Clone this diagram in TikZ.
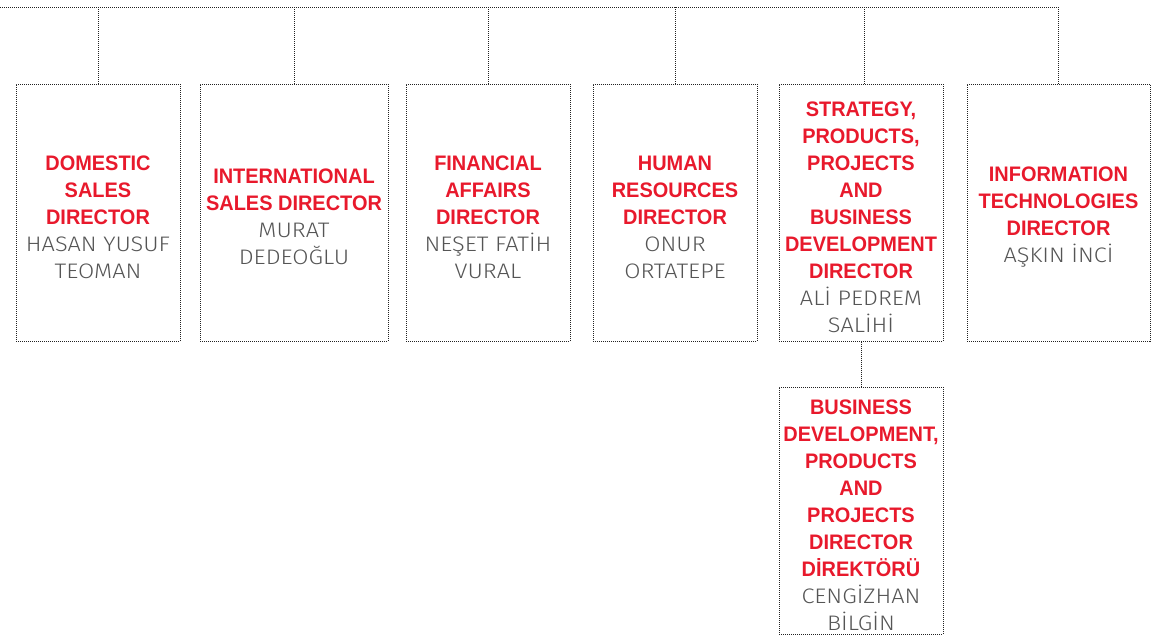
\documentclass[tikz,border=0pt]{standalone}
\usepackage{fontspec}
\setmainfont{Liberation Sans}
\newfontfamily\titlefont{Liberation Sans}[FakeStretch=0.95]
\IfFontExistsTF{Fira Sans Light}
  {\newfontfamily\namefont{Fira Sans Light}[FakeStretch=1.12]}
  {\newfontfamily\namefont{Liberation Sans}}
\definecolor{titlered}{HTML}{E8192C}
\definecolor{namegray}{HTML}{555555}
\definecolor{linegray}{HTML}{222222}
\newcommand{\ttl}[1]{{\titlefont\bfseries\color{titlered}#1}}
\newcommand{\nm}[1]{{\namefont\color{namegray}#1}}
\tikzset{
  dotline/.style={draw=linegray, line width=1pt, dash pattern=on 1pt off 1pt},
  orgbox/.style={dotline, rectangle, inner sep=0pt},
  orgtext/.style={align=center, inner sep=0pt, font=\fontsize{21}{27}\selectfont},
}
\begin{document}
\begin{tikzpicture}[x=1pt, y=-1pt]
\useasboundingbox (0,0) rectangle (1151,637);

% director boxes
\node[orgbox, minimum width=164pt, minimum height=257pt] (d1) at (98,212.5) {};
\node[orgbox, minimum width=188pt, minimum height=257pt] (d2) at (294,212.5) {};
\node[orgbox, minimum width=164pt, minimum height=257pt] (d3) at (488,212.5) {};
\node[orgbox, minimum width=164pt, minimum height=257pt] (d4) at (675,212.5) {};
\node[orgbox, minimum width=164pt, minimum height=257pt] (d5) at (861,212.5) {};
\node[orgbox, minimum width=183pt, minimum height=257pt] (d6) at (1058.5,212.5) {};
\node[orgbox, minimum width=164pt, minimum height=247pt] (d7) at (861,510.5) {};

% box texts
\node[orgtext] (t1) at (98,217) {\ttl{DOMESTIC}\\\ttl{SALES}\\\ttl{DIRECTOR}\\\nm{HASAN YUSUF}\\\nm{TEOMAN}};
\node[orgtext] (t2) at (294,217) {\ttl{INTERNATIONAL}\\\ttl{SALES DIRECTOR}\\\nm{MURAT}\\\nm{DEDEOĞLU}};
\node[orgtext] (t3) at (488,217) {\ttl{FINANCIAL}\\\ttl{AFFAIRS}\\\ttl{DIRECTOR}\\\nm{NEŞET FATİH}\\\nm{VURAL}};
\node[orgtext] (t4) at (675,217) {\ttl{HUMAN}\\\ttl{RESOURCES}\\\ttl{DIRECTOR}\\\nm{ONUR}\\\nm{ORTATEPE}};
\node[orgtext] (t5) at (861,217) {\ttl{STRATEGY,}\\\ttl{PRODUCTS,}\\\ttl{PROJECTS}\\\ttl{AND}\\\ttl{BUSINESS}\\\ttl{DEVELOPMENT}\\\ttl{DIRECTOR}\\\nm{ALİ PEDREM}\\\nm{SALİHİ}};
\node[orgtext] (t6) at (1058.5,217) {\ttl{INFORMATION}\\\ttl{TECHNOLOGIES}\\\ttl{DIRECTOR}\\\nm{AŞKIN İNCİ}};
\node[orgtext] (t7) at (861,515) {\ttl{BUSINESS}\\\ttl{DEVELOPMENT,}\\\ttl{PRODUCTS}\\\ttl{AND}\\\ttl{PROJECTS}\\\ttl{DIRECTOR}\\\ttl{DİREKTÖRÜ}\\\nm{CENGİZHAN}\\\nm{BİLGİN}};

% connector bus
\coordinate (busL) at (0,7);
\coordinate (busR) at (1058.5,7);
\draw[dotline] (busL) -- (busR);
\foreach \b in {d1,d2,d3,d4,d6}
  \draw[dotline] (busL -| \b.north) -- (\b.north);
\draw[dotline] ([xshift=3pt]busL -| d5.north) -- ([xshift=3pt]d5.north);
\draw[dotline] (d5.south) -- (d7.north);
\end{tikzpicture}
\end{document}
